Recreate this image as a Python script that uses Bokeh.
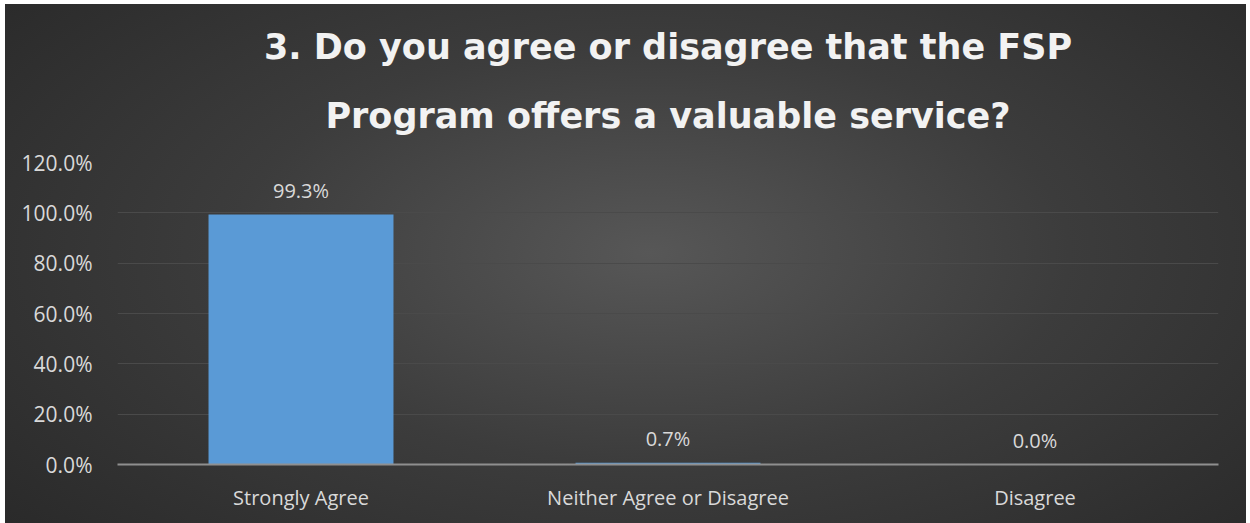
from bokeh.plotting import figure
from bokeh.models import ColumnDataSource, Title, FixedTicker, PrintfTickFormatter
from bokeh.embed import file_html
from bokeh.resources import INLINE
from bokeh.core.properties import value

categories = ["Strongly Agree", "Neither Agree or Disagree", "Disagree"]
percents = [99.3, 0.7, 0.0]
labels = ["99.3%", "0.7%", "0.0%"]
title_lines = ["3. Do you agree or disagree that the FSP", "Program offers a valuable service?"]
y_ticks = [0, 20, 40, 60, 80, 100, 120]

src = ColumnDataSource(dict(cat=categories, val=percents, lab=labels))

W, H = 1241, 519
p = figure(x_range=categories, y_range=(0, 120), width=W, height=H,
           output_backend="svg", toolbar_location=None, title=None,
           min_border_left=112, min_border_right=28, min_border_top=158, min_border_bottom=59)
p.margin = (4, 0, 0, 5)
p.styles = {"background": "radial-gradient(ellipse 75% 90% at 52% 48%, #575757 0%, #3c3c3c 45%, #262626 100%)"}
p.border_fill_alpha = 0
p.background_fill_alpha = 0
p.outline_line_color = None

p.vbar(x="cat", top="val", width=0.504, source=src, fill_color="#5a9ad6", line_color=None)
p.text(x="cat", y="val", text="lab", source=src, text_align="center", text_baseline="bottom",
       y_offset=-11, text_color="#d9d9d9", text_font=value("Open Sans"), text_font_size="20px")

p.xgrid.grid_line_color = None
p.ygrid.grid_line_color = "#4a4a4a"
p.ygrid.grid_line_width = 1
p.ygrid.ticker = FixedTicker(ticks=y_ticks)

p.yaxis.ticker = FixedTicker(ticks=y_ticks)
p.yaxis.formatter = PrintfTickFormatter(format="%.1f%%")
p.yaxis.axis_line_color = None
p.yaxis.major_tick_line_color = None
p.yaxis.minor_tick_line_color = None
p.yaxis.major_label_text_color = "#d9d9d9"
p.yaxis.major_label_text_font = "Open Sans"
p.yaxis.major_label_text_font_size = "21px"
p.yaxis.major_label_standoff = 19

p.xaxis.axis_line_color = "#8f8f8f"
p.xaxis.axis_line_width = 2
p.xaxis.major_tick_line_color = None
p.xaxis.minor_tick_line_color = None
p.xaxis.major_label_text_color = "#d9d9d9"
p.xaxis.major_label_text_font = "Open Sans"
p.xaxis.major_label_text_font_size = "20px"
p.xaxis.major_label_standoff = 13

# titles stacked above: first added sits closest to the frame
for i, line in enumerate(reversed(title_lines)):
    t = Title(text=line, align="center", text_color="#f2f2f2", text_font="DejaVu Sans",
              text_font_style="bold", text_font_size="35px",
              standoff=(54 if i == 0 else 0), offset=-4)
    p.add_layout(t, "above")

open("out.html", "w").write(file_html(p, INLINE))
